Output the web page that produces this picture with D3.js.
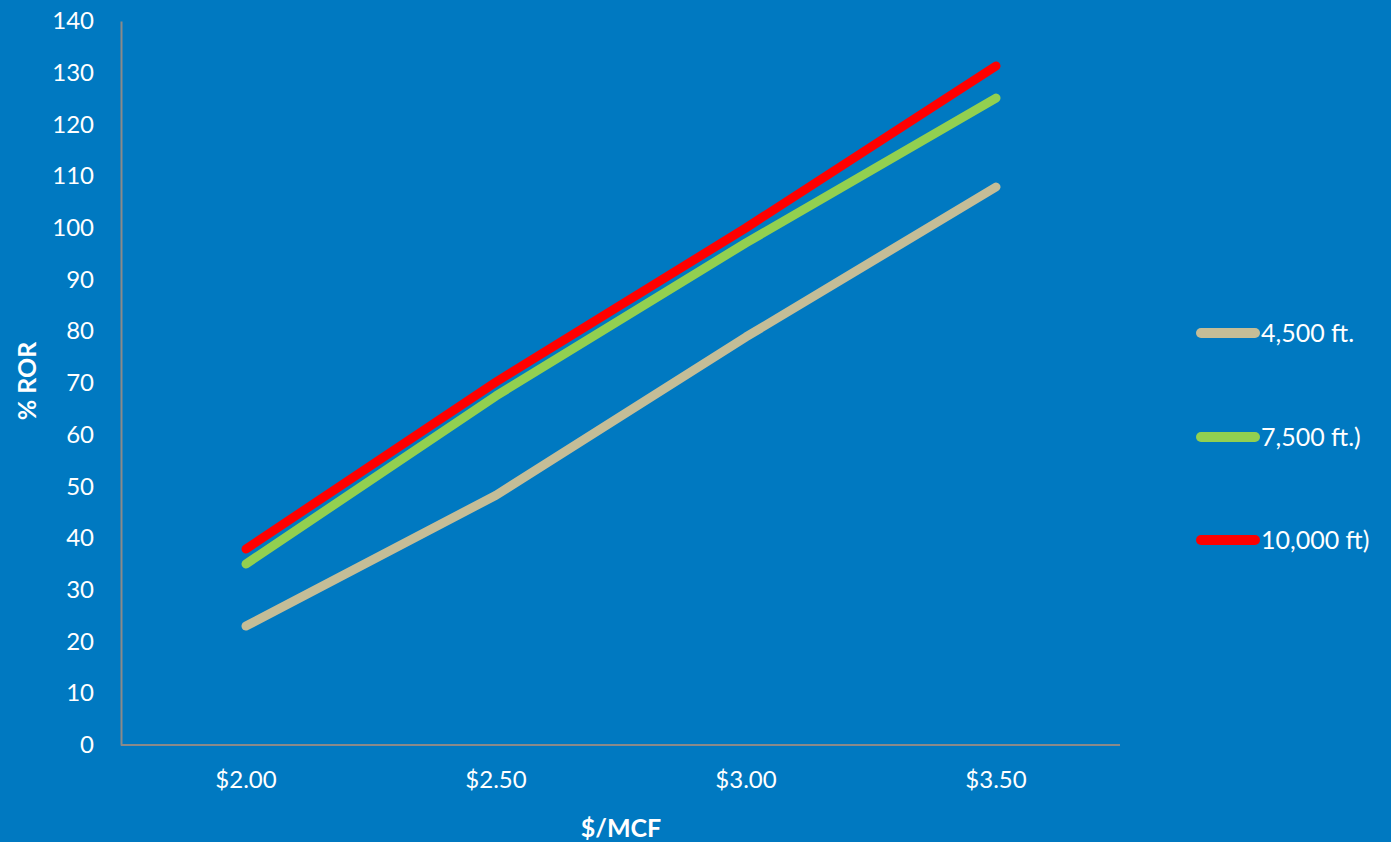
<!DOCTYPE html>
<html><head><meta charset="utf-8">
<script src="https://cdn.jsdelivr.net/npm/d3@7"></script>
<style>body{margin:0;background:#0079C1;}svg{display:block;font-family:Lato,"Open Sans",sans-serif;}</style>
</head><body><svg id="c" width="1391" height="842"></svg>
<script>
const categories = ["$2.00","$2.50","$3.00","$3.50"];
const seriesNames = ["4,500 ft.","7,500 ft.)","10,000 ft)"];
const seriesColors = ["#C4BD97","#92D050","#FF0000"];
const s4500 = [23, 48.3, 78.9, 107.9];
const s7500 = [35, 67.5, 97.1, 125.1];
const s10000 = [37.9, 70.2, 100, 131.3];
const yTicks = [0,10,20,30,40,50,60,70,80,90,100,110,120,130,140];
const series = [s4500, s7500, s10000];

const svg = d3.select("#c");
svg.append("rect").attr("width",1391).attr("height",842).attr("fill","#0079C1");
const L=121, R=1121, T=21, B=745;
const x = d3.scaleBand().domain(categories).range([L,R]);
const y = d3.scaleLinear().domain([0,140]).range([B,T]);

const yAx = svg.append("g").attr("transform",`translate(${L},0)`)
  .call(d3.axisLeft(y).tickValues(yTicks).tickSize(0).tickPadding(27));
yAx.select(".domain").attr("stroke","#8A8A8A").attr("stroke-width",2);
yAx.selectAll("text").attr("fill","#fff").attr("font-size",24).attr("font-family","Lato,'Open Sans',sans-serif");

const xAx = svg.append("g").attr("transform",`translate(0,${B})`)
  .call(d3.axisBottom(x).tickSize(0).tickPadding(26));
xAx.select(".domain").attr("stroke","#8A8A8A").attr("stroke-width",2).attr("d",`M${L},0H${R-1}`);
xAx.selectAll("text").attr("fill","#fff").attr("font-size",24).attr("font-family","Lato,'Open Sans',sans-serif");

const line = d3.line().x((d,i)=>x(categories[i])+x.bandwidth()/2).y(d=>y(d));
series.forEach((s,k)=>{
  svg.append("path").datum(s).attr("d",line).attr("fill","none")
    .attr("stroke",seriesColors[k]).attr("stroke-width",9)
    .attr("stroke-linecap","round").attr("stroke-linejoin","round");
});

svg.append("text").attr("x",621).attr("y",837).attr("text-anchor","middle")
  .attr("fill","#fff").attr("font-weight","bold").attr("font-size",25).text("$/MCF");
svg.append("text").attr("transform","translate(36,381) rotate(-90)").attr("text-anchor","middle")
  .attr("fill","#fff").attr("font-weight","bold").attr("font-size",25).text("% ROR");

const legY = [333,437,540];
seriesNames.forEach((n,k)=>{
  const g = svg.append("g").attr("transform",`translate(0,${legY[k]})`);
  g.append("line").attr("x1",1201).attr("x2",1255).attr("y1",0).attr("y2",0)
    .attr("stroke",seriesColors[k]).attr("stroke-width",10).attr("stroke-linecap","round");
  g.append("text").attr("x",1261).attr("y",9).attr("fill","#fff").attr("font-size",25).text(n);
});
</script></body></html>
